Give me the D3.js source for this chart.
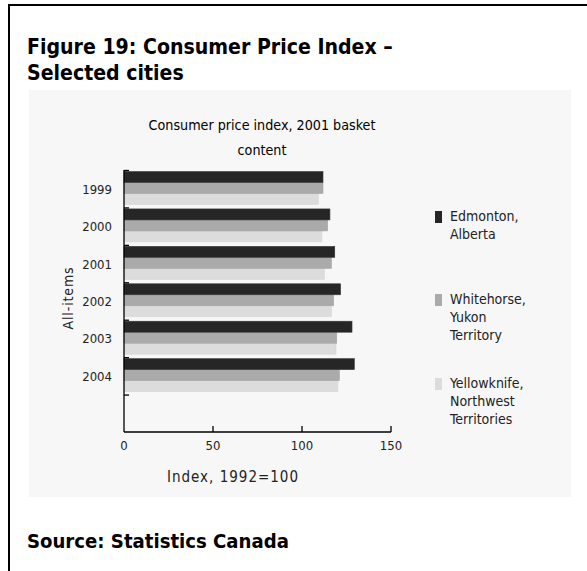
<!DOCTYPE html>
<html><head><meta charset="utf-8">
<script src="https://cdn.jsdelivr.net/npm/d3@7"></script>
<style>body{margin:0;background:#fff}svg{display:block}</style>
</head><body>
<script>
const years = ["1999","2000","2001","2002","2003","2004"];
const seriesNames = ["Edmonton, Alberta","Whitehorse, Yukon Territory","Yellowknife, Northwest Territories"];
const legendLines = [["Edmonton,","Alberta"],["Whitehorse,","Yukon","Territory"],["Yellowknife,","Northwest","Territories"]];
const edmonton   = [111.8, 115.7, 118.4, 121.7, 128.1, 129.4];
const whitehorse = [111.8, 114.4, 116.5, 117.8, 119.5, 121.0];
const yellowknife= [109.2, 111.2, 112.6, 116.5, 119.1, 120.2];
const xTicks = [0, 50, 100, 150];
const colors = ["#262626","#aaaaaa","#dcdcdc"];
const strokes = ["#3a3a3a","#a4a4a4","#d8d8d8"];

const W = 587, H = 571;
const svg = d3.select("body").append("svg").attr("width", W).attr("height", H);
svg.append("rect").attr("width", W).attr("height", H).attr("fill", "#fff");

// frame
svg.append("rect").attr("x", 8).attr("y", 4).attr("width", W - 8).attr("height", 2).attr("fill", "#000");
svg.append("rect").attr("x", 8).attr("y", 4).attr("width", 2).attr("height", H - 4).attr("fill", "#000");

// fit a text element's font size so its longest line matches a target width
function fitWidth(sel, target, start) {
  sel.attr("font-size", start);
  let w = 0;
  sel.each(function () {
    const tsp = this.querySelectorAll("tspan");
    if (tsp.length) tsp.forEach(t => { w = Math.max(w, t.getComputedTextLength()); });
    else w = this.getComputedTextLength();
  });
  if (w > 0) sel.attr("font-size", start * target / w);
}
// fit by letter spacing, keeping font size
function fitSpacing(sel, target) {
  const node = sel.node();
  const w = node.getComputedTextLength();
  const n = sel.text().length;
  if (n > 1) sel.attr("letter-spacing", (target - w) / n);
}

// headings
const headFont = "'DejaVu Sans Condensed','DejaVu Sans', sans-serif";
const head = svg.append("text").attr("font-family", headFont).attr("font-weight", "bold").attr("fill", "#000");
head.append("tspan").attr("x", 27).attr("y", 54).text("Figure 19: Consumer Price Index –");
head.append("tspan").attr("x", 27).attr("y", 80).text("Selected cities");
fitWidth(head, 366, 22);

svg.append("rect").attr("x", 29).attr("y", 90).attr("width", 542).attr("height", 407).attr("fill", "#f7f7f7");

const src = svg.append("text").attr("x", 27).attr("y", 548).attr("font-family", headFont).attr("font-weight", "bold")
  .attr("fill", "#000").text("Source: Statistics Canada");
fitWidth(src, 262, 18);

const chartFont = "'DejaVu Sans Condensed','DejaVu Sans', sans-serif";
const ct = svg.append("text").attr("font-family", chartFont).attr("fill", "#000")
  .attr("text-anchor", "middle");
ct.append("tspan").attr("x", 262).attr("y", 130).text("Consumer price index, 2001 basket");
ct.append("tspan").attr("x", 262).attr("y", 155).text("content");
fitWidth(ct, 227, 15);

// scales
const x = d3.scaleLinear().domain([0, 150]).range([124, 391]);
const y = d3.scaleBand().domain([...years, ""]).range([170, 432]).paddingInner(0).paddingOuter(0);
const inner = d3.scaleBand().domain(d3.range(3)).range([1.5, 34.5]);

const data = years.map((yr, i) => ({ yr, vals: [edmonton[i], whitehorse[i], yellowknife[i]] }));

const g = svg.append("g");
const grp = g.selectAll("g.yr").data(data).join("g").attr("transform", d => `translate(0,${y(d.yr)})`);
grp.selectAll("rect").data(d => d.vals.map((v, k) => ({ v, k })).reverse()).join("rect")
  .attr("x", x(0)).attr("y", d => inner(d.k))
  .attr("width", d => x(d.v) - x(0)).attr("height", inner.bandwidth())
  .attr("fill", d => colors[d.k]).attr("stroke", d => strokes[d.k]).attr("stroke-width", 0.6);

// y axis line & ticks at band boundaries
const yAxisG = svg.append("g");
yAxisG.append("line").attr("x1", x(0)).attr("x2", x(0)).attr("y1", y.range()[0]).attr("y2", y.range()[1])
  .attr("stroke", "#000").attr("stroke-width", 1.3);
yAxisG.selectAll("line.t").data(y.domain()).join("line").attr("class", "t")
  .attr("x1", x(0)).attr("x2", x(0) + 5).attr("y1", d => y(d) + 0.5).attr("y2", d => y(d) + 0.5)
  .attr("stroke", "#000").attr("stroke-width", 1.3);
yAxisG.selectAll("text").data(years).join("text")
  .attr("x", 112).attr("y", d => y(d) + y.bandwidth() / 2 + 5)
  .attr("text-anchor", "end").attr("font-family", chartFont).attr("font-size", 13).attr("fill", "#222").text(d => d);

// x axis
const xAxisG = svg.append("g").attr("transform", `translate(0,${y.range()[1]})`);
xAxisG.append("line").attr("x1", x(0)).attr("x2", x(150)).attr("stroke", "#000").attr("stroke-width", 1.3);
xAxisG.selectAll("line.t").data(xTicks.slice(1)).join("line").attr("class", "t")
  .attr("x1", d => x(d)).attr("x2", d => x(d)).attr("y1", 0).attr("y2", -6)
  .attr("stroke", "#000").attr("stroke-width", 1.3);
xAxisG.selectAll("text").data(xTicks).join("text")
  .attr("x", d => x(d)).attr("y", 18).attr("text-anchor", "middle")
  .attr("font-family", chartFont).attr("font-size", 13).attr("fill", "#222").text(d => d);

const xl = svg.append("text").attr("x", 233).attr("y", 482).attr("text-anchor", "middle")
  .attr("font-family", chartFont).attr("font-size", 15).attr("fill", "#222").text("Index, 1992=100");
fitSpacing(xl, 132);
const yl = svg.append("text").attr("transform", "translate(73,298) rotate(-90)").attr("text-anchor", "middle")
  .attr("font-family", chartFont).attr("font-size", 14).attr("fill", "#222").text("All-items");
fitSpacing(yl, 63);

// legend
const legTops = [211, 294, 378];
const leg = svg.append("g").selectAll("g").data(seriesNames).join("g")
  .attr("transform", (d, i) => `translate(435,${legTops[i]})`);
leg.append("rect").attr("width", 7).attr("height", 12).attr("fill", (d, i) => colors[i]);
leg.append("text").attr("font-family", chartFont).attr("font-size", 14).attr("fill", "#222")
  .selectAll("tspan").data((d, i) => legendLines[i]).join("tspan")
  .attr("x", 15).attr("y", (d, j) => 10 + j * 18).text(d => d);
</script>
</body></html>
